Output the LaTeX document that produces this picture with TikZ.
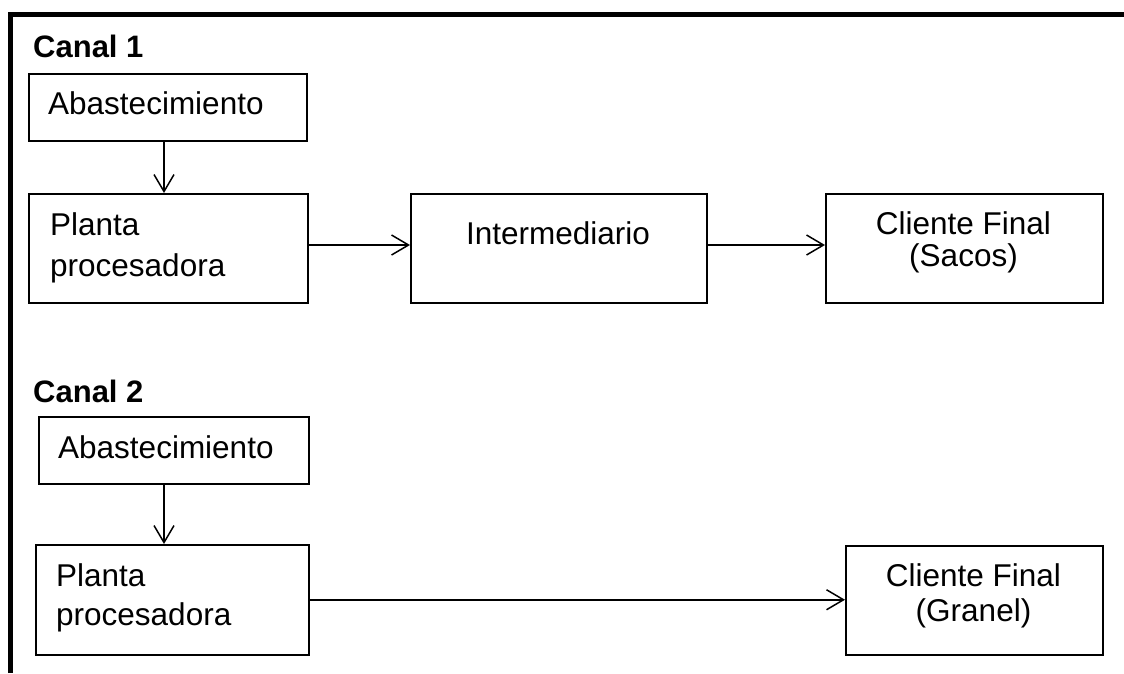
\documentclass[tikz,border=0pt]{standalone}
\usepackage{fontspec}
\setmainfont{Liberation Sans}
\usetikzlibrary{arrows.meta}
\tikzset{
  box/.style={draw=black, fill=white, line width=1.5pt, rectangle, inner sep=0pt, anchor=north west},
  txt/.style={inner sep=0pt, font=\fontsize{31.5}{34}\selectfont},
  ttl/.style={inner sep=0pt, font=\fontsize{31}{34}\selectfont\bfseries, anchor=base west},
  arr/.style={line width=1.5pt, -{Straight Barb[length=17pt,width=20pt,line width=1.5pt]}},
  frame/.style={line width=5pt, line join=miter}
}
\begin{document}
\begin{tikzpicture}[x=1pt, y=-1pt]
\useasboundingbox (0,0) rectangle (1124,673);
% outer frame (open to the right and bottom)
\coordinate (fb) at (10.5,673);
\coordinate (fc) at (10.5,14.5);
\coordinate (fr) at (1124,14.5);
\draw[frame] (fb) -- (fc) -- (fr);

% Canal 1
\node[ttl] (canal1) at (33,57) {Canal 1};
\node[box, minimum width=278pt, minimum height=67pt] (ab1) at (28,73) {};
\node[txt, anchor=base west] (tab1) at (48,114) {Abastecimiento};
\node[box, minimum width=279pt, minimum height=109pt] (pl1) at (28,193) {};
\node[txt, anchor=base west] (tpl1a) at (50,235) {Planta};
\node[txt, anchor=base west] (tpl1b) at (50,276) {procesadora};
\node[box, minimum width=296pt, minimum height=109pt] (in1) at (410,193) {};
\node[txt, anchor=base] (tin1) at (558,244) {Intermediario};
\node[box, minimum width=277pt, minimum height=109pt] (cf1) at (825,193) {};
\node[txt, anchor=base] (tcf1a) at (963.5,234) {Cliente Final};
\node[txt, anchor=base] (tcf1b) at (963.5,266) {(Sacos)};

\coordinate (v1) at (164,0);
\coordinate (h1) at (0,245);
\draw[arr] (ab1.south -| v1) -- (pl1.north -| v1);
\draw[arr] (pl1.east |- h1) -- (in1.west |- h1);
\draw[arr] (in1.east |- h1) -- (cf1.west |- h1);

% Canal 2
\node[ttl] (canal2) at (33,402) {Canal 2};
\node[box, minimum width=270pt, minimum height=67pt] (ab2) at (38,416) {};
\node[txt, anchor=base west] (tab2) at (58,458) {Abastecimiento};
\node[box, minimum width=273pt, minimum height=110pt] (pl2) at (35,544) {};
\node[txt, anchor=base west] (tpl2a) at (56,586) {Planta};
\node[txt, anchor=base west] (tpl2b) at (56,625) {procesadora};
\node[box, minimum width=257pt, minimum height=109pt] (cf2) at (845,545) {};
\node[txt, anchor=base] (tcf2a) at (973.5,586) {Cliente Final};
\node[txt, anchor=base] (tcf2b) at (973.5,621) {(Granel)};

\coordinate (v2) at (164,0);
\draw[arr] (ab2.south -| v2) -- (pl2.north -| v2);
\draw[arr] (pl2.east) -- (cf2.west |- pl2.east);
\end{tikzpicture}
\end{document}
